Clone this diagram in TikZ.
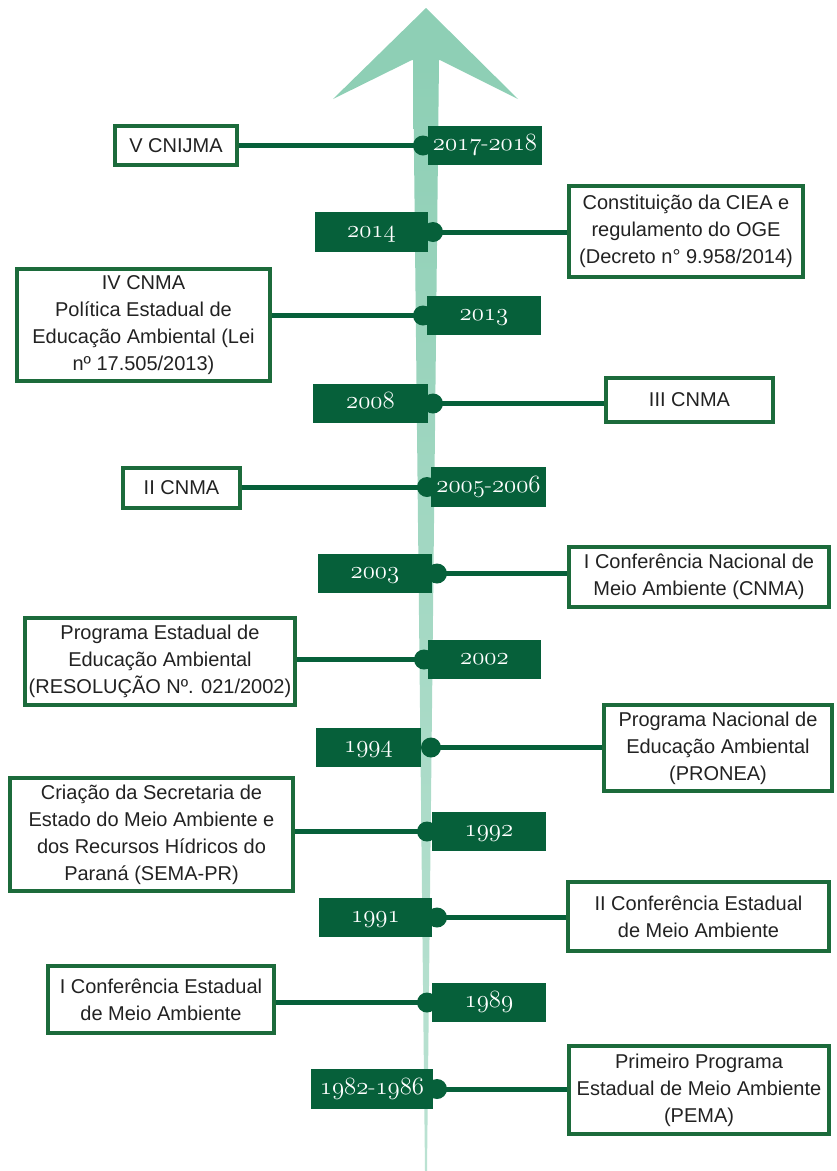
\documentclass[tikz,border=0pt]{standalone}
\usepackage{fontspec}
\setmainfont{Liberation Sans}
\definecolor{shaftgreen}{HTML}{8ECFB5}
\definecolor{dkgreen}{HTML}{06603A}
\definecolor{bordgreen}{HTML}{1C6B3B}
\definecolor{txtgray}{HTML}{222222}
\newcommand{\yr}[1]{{\usefont{OML}{cmm}{m}{it}#1}}
\newcommand{\yrdash}{{\usefont{TU}{lmr}{m}{n}-}}
\tikzset{
  yearbox/.style={fill=dkgreen, text=white, inner sep=0pt,
    font=\fontsize{23.5bp}{23.5bp}\selectfont, text height=10bp, text depth=0bp},
  yeardot/.style={circle, fill=dkgreen, minimum size=20bp, inner sep=0pt},
  conn/.style={draw=dkgreen, line width=5bp},
  evbox/.style={draw=bordgreen, line width=4bp, fill=white, align=center,
    text=txtgray, inner sep=0pt, font=\fontsize{20bp}{27bp}\selectfont}
}
\begin{document}
\begin{tikzpicture}[x=1bp,y=-1bp]
\useasboundingbox (0,0) rectangle (837,1171);
% timeline arrow
\shade[top color=shaftgreen, bottom color=shaftgreen!60] (413,60) -- (439,60) -- (427,1171) -- (425,1171) -- cycle;
\fill[shaftgreen] (426,8) -- (518,99) -- (440,60) -- (412,60) -- (333,99) -- cycle;

% year boxes
\node[yearbox, minimum width=114bp, minimum height=39bp] (y1) at (485,145.5) {\yr{2017}\yrdash\yr{2018}};
\node[yearbox, minimum width=113bp, minimum height=40bp] (y2) at (371.5,232) {\yr{2014}};
\node[yearbox, minimum width=114bp, minimum height=39bp] (y3) at (484,315.5) {\yr{2013}};
\node[yearbox, minimum width=115bp, minimum height=39bp] (y4) at (370.5,403.5) {\yr{2008}};
\node[yearbox, minimum width=115bp, minimum height=40bp] (y5) at (488.5,487) {\yr{2005}\yrdash\yr{2006}};
\node[yearbox, minimum width=114bp, minimum height=39bp] (y6) at (375,573.5) {\yr{2003}};
\node[yearbox, minimum width=113bp, minimum height=39bp] (y7) at (484.5,659.5) {\yr{2002}};
\node[yearbox, minimum width=105bp, minimum height=39bp] (y8) at (368.5,747.5) {\yr{1994}};
\node[yearbox, minimum width=114bp, minimum height=39bp] (y9) at (489,831.5) {\yr{1992}};
\node[yearbox, minimum width=113bp, minimum height=39bp] (y10) at (375.5,917.5) {\yr{1991}};
\node[yearbox, minimum width=114bp, minimum height=39bp] (y11) at (489,1002.5) {\yr{1989}};
\node[yearbox, minimum width=122bp, minimum height=40bp] (y12) at (372,1089) {\yr{1982}\yrdash\yr{1986}};

% dots
\node[yeardot] (d1) at (423,145.5) {};
\node[yeardot] (d2) at (433,232) {};
\node[yeardot] (d3) at (423,315.5) {};
\node[yeardot] (d4) at (433,403.5) {};
\node[yeardot] (d5) at (427,487) {};
\node[yeardot] (d6) at (437,573.5) {};
\node[yeardot] (d7) at (424,659.5) {};
\node[yeardot] (d8) at (431,747.5) {};
\node[yeardot] (d9) at (427,831.5) {};
\node[yeardot] (d10) at (437,917.5) {};
\node[yeardot] (d11) at (427,1002.5) {};
\node[yeardot] (d12) at (437,1089) {};

% event boxes
\node[evbox, minimum width=122bp, minimum height=39bp] (e1) at (176,145.5) {V CNIJMA};
\node[evbox, minimum width=234bp, minimum height=91bp] (e2) at (686,231.5) {Constituição da CIEA e\\regulamento do OGE\\(Decreto n° 9.958/2014)};
\node[evbox, minimum width=253bp, minimum height=112bp] (e3) at (143.5,325) {IV CNMA\\Política Estadual de\\Educação Ambiental (Lei\\nº 17.505/2013)};
\node[evbox, minimum width=167bp, minimum height=44bp] (e4) at (689.5,400) {III CNMA};
\node[evbox, minimum width=117bp, minimum height=40bp] (e5) at (181.5,488) {II CNMA};
\node[evbox, minimum width=260bp, minimum height=60bp] (e6) at (699,577) {I Conferência Nacional de\\Meio Ambiente (CNMA)};
\node[evbox, minimum width=270bp, minimum height=87bp] (e7) at (160,661.5) {Programa Estadual de\\Educação Ambiental\\(RESOLUÇÃO Nº. 021/2002)};
\node[evbox, minimum width=228bp, minimum height=86bp] (e8) at (718,748) {Programa Nacional de\\Educação Ambiental\\(PRONEA)};
\node[evbox, minimum width=283bp, minimum height=113bp] (e9) at (151.5,834.5) {Criação da Secretaria de\\Estado do Meio Ambiente e\\dos Recursos Hídricos do\\Paraná (SEMA-PR)};
\node[evbox, minimum width=261bp, minimum height=69bp] (e10) at (698.5,916.5) {II Conferência Estadual\\de Meio Ambiente};
\node[evbox, minimum width=226bp, minimum height=67bp] (e11) at (161,999.5) {I Conferência Estadual\\de Meio Ambiente};
\node[evbox, minimum width=260bp, minimum height=88bp] (e12) at (699,1090) {Primeiro Programa\\Estadual de Meio Ambiente\\(PEMA)};

% connectors
\draw[conn] (d1.center) -- (d1.center -| e1.east);
\draw[conn] (d2.center) -- (d2.center -| e2.west);
\draw[conn] (d3.center) -- (d3.center -| e3.east);
\draw[conn] (d4.center) -- (d4.center -| e4.west);
\draw[conn] (d5.center) -- (d5.center -| e5.east);
\draw[conn] (d6.center) -- (d6.center -| e6.west);
\draw[conn] (d7.center) -- (d7.center -| e7.east);
\draw[conn] (d8.center) -- (d8.center -| e8.west);
\draw[conn] (d9.center) -- (d9.center -| e9.east);
\draw[conn] (d10.center) -- (d10.center -| e10.west);
\draw[conn] (d11.center) -- (d11.center -| e11.east);
\draw[conn] (d12.center) -- (d12.center -| e12.west);
\end{tikzpicture}
\end{document}
